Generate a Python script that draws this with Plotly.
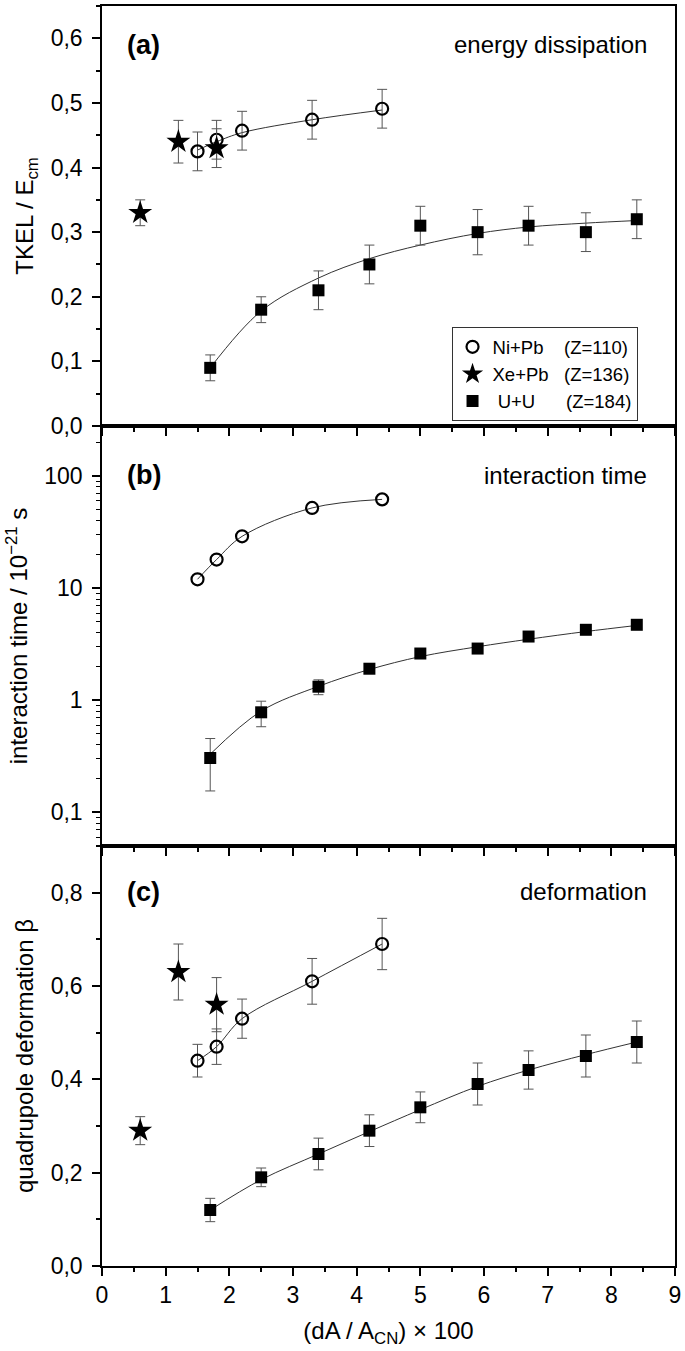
import plotly.graph_objects as go
from plotly.subplots import make_subplots

# ---------------- data ----------------
# Ni+Pb (Z=110)
ni_x = [1.5, 1.8, 2.2, 3.3, 4.4]
ni_tkel = [0.425, 0.443, 0.457, 0.474, 0.491]
ni_tkel_err = [0.03, 0.03, 0.03, 0.03, 0.03]
ni_time = [12.0, 18.0, 29.0, 52.0, 62.0]
ni_beta = [0.44, 0.47, 0.53, 0.61, 0.69]
ni_beta_err = [0.035, 0.038, 0.042, 0.049, 0.055]

# Xe+Pb (Z=136)
xe_x = [0.6, 1.2, 1.8]
xe_tkel = [0.33, 0.44, 0.43]
xe_tkel_err = [0.02, 0.033, 0.03]
xe_beta = [0.29, 0.63, 0.56]
xe_beta_err = [0.03, 0.06, 0.058]

# U+U (Z=184)
uu_x = [1.7, 2.5, 3.4, 4.2, 5.0, 5.9, 6.7, 7.6, 8.4]
uu_tkel = [0.09, 0.18, 0.21, 0.25, 0.31, 0.30, 0.31, 0.30, 0.32]
uu_tkel_err = [0.02, 0.02, 0.03, 0.03, 0.03, 0.035, 0.03, 0.03, 0.03]
uu_time = [0.305, 0.78, 1.32, 1.91, 2.61, 2.89, 3.70, 4.25, 4.71]
uu_time_err = [0.15, 0.2, 0.2, 0.12, 0.0, 0.0, 0.0, 0.0, 0.0]
uu_beta = [0.12, 0.19, 0.24, 0.29, 0.34, 0.39, 0.42, 0.45, 0.48]
uu_beta_err = [0.025, 0.02, 0.034, 0.034, 0.033, 0.045, 0.041, 0.045, 0.045]

# fitted curves
fit_ni_tkel = [0.427, 0.440, 0.454, 0.474, 0.489]
fit_uu_tkel = [0.09, 0.178, 0.229, 0.259, 0.280, 0.298, 0.308, 0.314, 0.318]
fit_ni_time = [12.0, 18.0, 29.0, 52.0, 62.0]
fit_uu_time = [0.33, 0.80, 1.33, 1.88, 2.45, 3.0, 3.5, 4.1, 4.65]
fit_ni_beta = [0.44, 0.47, 0.53, 0.61, 0.69]
fit_uu_beta = [0.12, 0.185, 0.24, 0.288, 0.335, 0.385, 0.42, 0.453, 0.48]

NB = "\u00a0"
series_names = ["Ni+Pb" + NB * 4 + "(Z=110)",
                "Xe+Pb" + NB * 3 + "(Z=136)",
                NB + "U+U" + NB * 6 + "(Z=184)"]
panel_labels = ["(a)", "(b)", "(c)"]
panel_titles = ["energy dissipation", "interaction time", "deformation"]
y_titles = ["TKEL / E<sub>cm</sub>", "interaction time / 10<sup>\u221221</sup> s",
            "quadrupole deformation \u03b2"]
x_title = "(dA / A<sub>CN</sub>) \u00d7 100"

# ---------------- figure ----------------
FONT = "Liberation Sans, Arial, Helvetica, sans-serif"
fig = make_subplots(rows=3, cols=1, shared_xaxes=True, vertical_spacing=0)

line_style = dict(color="#333333", width=1, shape="spline", smoothing=1.0)
err_style = dict(color="#555555", thickness=1, width=5)


def add_fit(x, y, row):
    fig.add_trace(go.Scatter(x=x, y=y, mode="lines", line=line_style,
                             showlegend=False, hoverinfo="skip"), row=row, col=1)


def add_pts(x, y, err, symbol, size, name, row, legend, lw=0):
    fig.add_trace(go.Scatter(
        x=x, y=y, mode="markers", name=name, showlegend=legend,
        marker=dict(symbol=symbol, size=size, color="black",
                    line=dict(color="black", width=lw)),
        error_y=(dict(type="data", array=err, visible=True, **err_style)
                 if err is not None else None)), row=row, col=1)


# panel a
add_fit(ni_x, fit_ni_tkel, 1)
add_fit(uu_x, fit_uu_tkel, 1)
add_pts(ni_x, ni_tkel, ni_tkel_err, "circle-open", 12, series_names[0], 1, True, 2.2)
add_pts(xe_x, xe_tkel, xe_tkel_err, "star", 18, series_names[1], 1, True)
add_pts(uu_x, uu_tkel, uu_tkel_err, "square", 12, series_names[2], 1, True)

# panel b
add_fit(ni_x, fit_ni_time, 2)
add_fit(uu_x, fit_uu_time, 2)
add_pts(ni_x, ni_time, None, "circle-open", 12, series_names[0], 2, False, 2.2)
add_pts(uu_x, uu_time, uu_time_err, "square", 12, series_names[2], 2, False)

# panel c
add_fit(ni_x, fit_ni_beta, 3)
add_fit(uu_x, fit_uu_beta, 3)
add_pts(ni_x, ni_beta, ni_beta_err, "circle-open", 12, series_names[0], 3, False, 2.2)
add_pts(xe_x, xe_beta, xe_beta_err, "star", 18, series_names[1], 3, False)
add_pts(uu_x, uu_beta, uu_beta_err, "square", 12, series_names[2], 3, False)

axis_common = dict(showline=True, mirror=True, linecolor="black", linewidth=1.5,
                   ticks="outside", ticklen=8, tickwidth=1.5, tickcolor="black",
                   showgrid=False, zeroline=False,
                   tickfont=dict(family=FONT, size=23, color="black"))

for r in (1, 2, 3):
    fig.update_xaxes(range=[0, 9], dtick=1, tick0=0, ticklabeloverflow="allow",
                     minor=dict(dtick=0.5, ticks="outside", ticklen=4,
                                tickwidth=1.5, tickcolor="black"),
                     row=r, col=1, **axis_common)

fig.update_xaxes(title=dict(text=x_title, font=dict(family=FONT, size=24), standoff=15),
                 row=3, col=1)

y_title_font = dict(family=FONT, size=24)
fig.update_yaxes(range=[0, 0.65], dtick=0.1, tick0=0, tickformat=".1f",
                 ticklabelstandoff=5,
                 minor=dict(dtick=0.05, ticks="outside", ticklen=4,
                            tickwidth=1.5, tickcolor="black"),
                 title=dict(text=y_titles[0], font=y_title_font, standoff=10),
                 row=1, col=1, **axis_common)

minor_log = [m * 10 ** e for e in (-2, -1, 0, 1, 2) for m in range(2, 10)]
fig.update_yaxes(type="log", range=[-1.301, 2.447], tickvals=[0.1, 1, 10, 100],
                 ticktext=["0,1", "1", "10", "100"], ticklabelstandoff=5,
                 minor=dict(tickvals=minor_log, ticks="outside", ticklen=4,
                            tickwidth=1.2, tickcolor="black"),
                 title=dict(text=y_titles[1], font=y_title_font, standoff=10),
                 row=2, col=1, **axis_common)

fig.update_yaxes(range=[0, 0.9], dtick=0.2, tick0=0, tickformat=".1f",
                 ticklabelstandoff=5,
                 minor=dict(dtick=0.1, ticks="outside", ticklen=4,
                            tickwidth=1.5, tickcolor="black"),
                 title=dict(text=y_titles[2], font=y_title_font, standoff=10),
                 row=3, col=1, **axis_common)

label_y = [0.908, 0.883, 0.891]
for i, (xa, ya) in enumerate([("x", "y"), ("x2", "y2"), ("x3", "y3")]):
    fig.add_annotation(text="<b>" + panel_labels[i] + "</b>", xref=xa + " domain",
                       yref=ya + " domain", x=0.04, y=label_y[i], xanchor="left",
                       yanchor="middle", showarrow=False,
                       font=dict(family=FONT, size=27, color="black"))
    fig.add_annotation(text=panel_titles[i], xref=xa + " domain", yref=ya + " domain",
                       x=0.955, y=label_y[i], xanchor="right", yanchor="middle",
                       showarrow=False, font=dict(family=FONT, size=24, color="black"))

fig.update_layout(
    width=685, height=1351,
    margin=dict(l=102, r=6, t=4, b=85),
    plot_bgcolor="white", paper_bgcolor="white",
    separators=", ",
    font=dict(family=FONT, size=22, color="black"),
    legend=dict(x=0.61, y=0.745, xanchor="left", yanchor="top",
                bgcolor="white", bordercolor="#333333", borderwidth=1,
                font=dict(family=FONT, size=18.5, color="black"),
                tracegroupgap=0, itemwidth=30),
)

fig.write_html("out.html", config={"displayModeBar": False},
               post_script="document.body.style.margin='0';"
                           "document.body.style.overflow='hidden';")
